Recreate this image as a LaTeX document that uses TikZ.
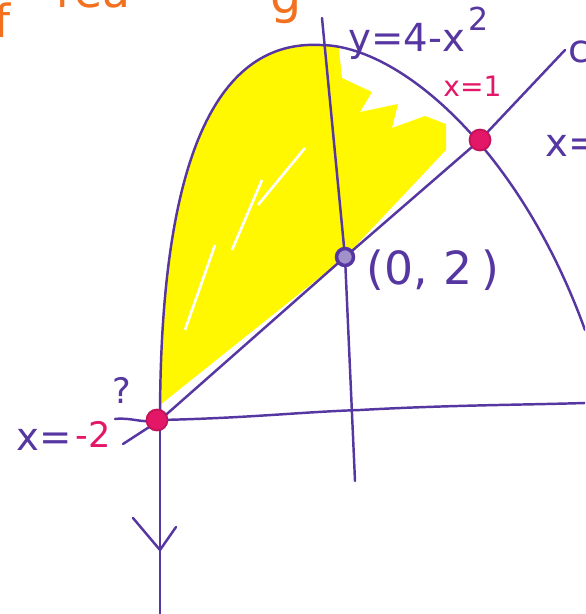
\documentclass[tikz,border=0pt]{standalone}
\usepackage{fontspec}
\setmainfont{DejaVu Sans}
\usetikzlibrary{positioning,calc}
\definecolor{ink}{RGB}{86,54,160}
\definecolor{hotpink}{RGB}{228,22,104}
\definecolor{orng}{RGB}{242,112,30}
\definecolor{hilite}{RGB}{255,248,0}

\begin{document}
\begin{tikzpicture}[
    x=0.02cm, y=-0.02cm,
    ink line/.style={draw=ink, line width=1.4pt, line cap=round, line join=round},
    hot dot/.style={circle, fill=hotpink, draw=hotpink!85!black, line width=1pt, minimum size=0.42cm, inner sep=0pt},
    open dot/.style={circle, draw=ink, fill=ink!55, line width=2pt, minimum size=0.34cm, inner sep=0pt},
    hand/.style={inner sep=0pt, anchor=base west}
]
    \useasboundingbox (0,0) rectangle (585,614);
    \clip (0,0) rectangle (585,614);
    % points on the curves
    \coordinate (left) at (160,420);
    \coordinate (apex) at (320,45);
    \coordinate (rightEnd) at (585,330);
    \coordinate (cross) at (480,140);
    \coordinate (yint) at (345,257);
    % shaded region
    \begin{scope}
        \clip (left) .. controls (160,150) and (220,40) .. (apex) .. controls (400,45) and (520,150) .. (rightEnd) -- cycle;
        \fill[hilite] (160,405) -- (160,40) -- (338,40) -- (342,78) -- (372,92) -- (360,112) -- (398,104)
            -- (392,128) -- (425,116) -- (446,124) -- (446,150) -- (yint) -- cycle;
        \draw[white, line width=1.5pt] (185,330) -- (215,245);
        \draw[white, line width=1.5pt] (232,250) -- (262,180);
        \draw[white, line width=1.5pt] (258,205) -- (305,148);
    \end{scope}
    % parabola and lines
    \draw[ink line] (left) .. controls (160,150) and (220,40) .. (apex) .. controls (400,45) and (520,150) .. (rightEnd);
    \coordinate (lineStart) at (123,444);
    \coordinate (lineEnd) at (565,50);
    \draw[ink line] (lineStart) -- (left) -- (yint) -- (cross) -- (lineEnd);
    \coordinate (stub) at (115,419);
    \coordinate (axisEnd) at (585,403);
    \draw[ink line] (stub) .. controls (132,417) and (142,424) .. (left)
        .. controls (250,418) and (300,412) .. (360,410) .. controls (450,405) and (520,405) .. (axisEnd);
    \coordinate (ytop) at (322,18);
    \coordinate (ybot) at (355,481);
    \draw[ink line] (ytop) -- (yint) -- (ybot);
    \coordinate (down) at (160,614);
    \draw[ink line] (left) -- (down);
    \coordinate (vtip) at (160,550);
    \draw[ink line] (133,518) -- (vtip) -- (176,527);
    % marked points
    \node[hot dot] (pm2) at (157,420) {};
    \node[hot dot] (p1) at (cross) {};
    \node[open dot] (p0) at (yint) {};
    % labels
    \node[hand, text=orng, font=\fontsize{26}{28}\selectfont] (titleF) at (-6,38) {f};
    \node[hand, text=orng, font=\fontsize{26}{28}\selectfont] (titleRea) at (56,8) {rea};
    \node[hand, text=orng, font=\fontsize{28}{30}\selectfont] (titleG) at (270,14) {g};
    \node[hand, text=ink, font=\fontsize{22}{24}\selectfont] (eq) at (348,52) {y=4-x\hspace{0.1em}\raisebox{0.55em}{\fontsize{18}{20}\selectfont 2}};
    \node[hand, text=hotpink, font=\fontsize{16}{18}\selectfont] (lblOne) at (443,97) {x=1};
    \node[hand, text=ink, font=\fontsize{26}{28}\selectfont] (lblPt) at (366,285) {(0,\hspace{0.35em}2\hspace{0.2em})};
    \node[hand, text=ink, font=\fontsize{22}{24}\selectfont] (lblX) at (16,450) {x=};
    \node[hand, text=hotpink, font=\fontsize{20}{22}\selectfont] (lblTwo) at (75,447) {-2};
    \node[hand, text=ink, font=\fontsize{20}{22}\selectfont] (ask) at (112,403) {?};
    \node[hand, text=ink, font=\fontsize{22}{24}\selectfont] (lblXr) at (545,157) {x=};
    \node[hand, text=ink, font=\fontsize{22}{24}\selectfont] (lblC) at (568,63) {c};
\end{tikzpicture}
\end{document}
